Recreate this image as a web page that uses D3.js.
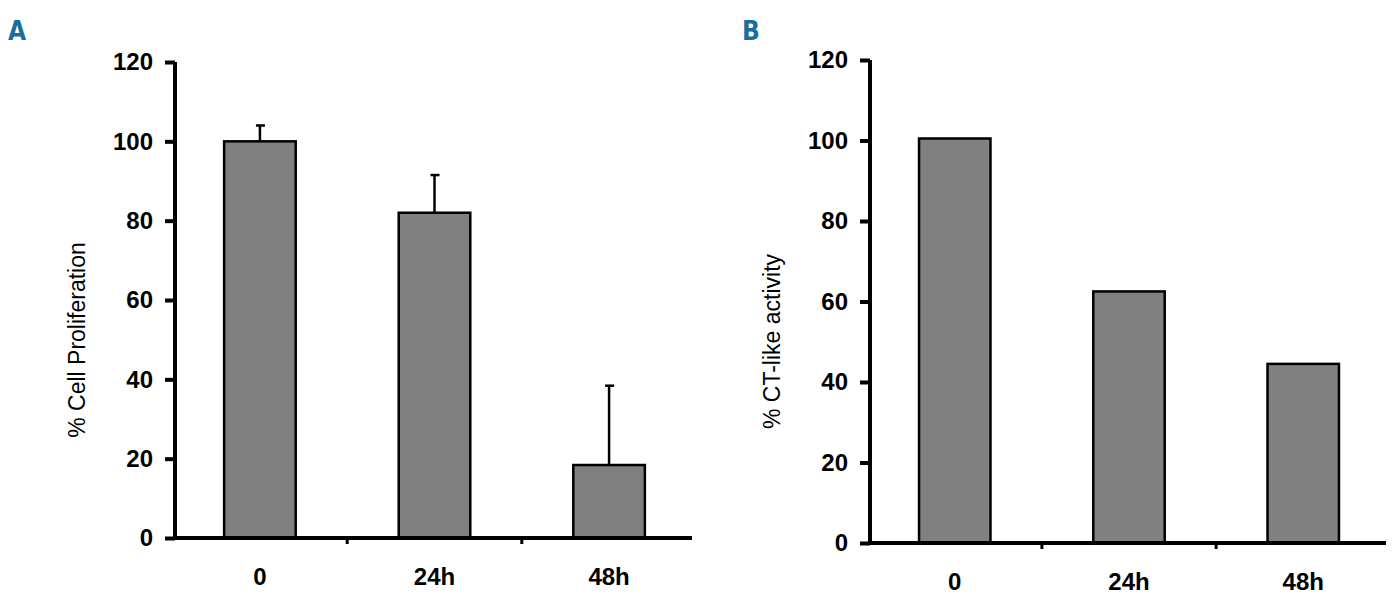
<!DOCTYPE html>
<html><head><meta charset="utf-8">
<script src="https://cdn.jsdelivr.net/npm/d3@7"></script>
<style>body{margin:0;background:#fff}</style></head>
<body><svg id="c" width="1400" height="596"></svg>
<script>
const categories = ['0', '24h', '48h']
const prolifValues = [100, 82, 18.4]
const prolifErrors = [4, 9.5, 20]
const ctValues = [100.5, 62.5, 44.5]
const yTicks = [0, 20, 40, 60, 80, 100, 120]

const svg = d3.select('#c')

function panel ({ letter, letterX, axisX, axisRight, y0, y120, values, errors, label }) {
  const y = d3.scaleLinear([0, 120], [y0, y120])
  const x = d3.scaleBand(categories, [axisX + 2, axisRight]).paddingInner(0.59).paddingOuter(0.27)
  const g = svg.append('g')

  svg.append('text').attr('x', letterX).attr('y', 40)
    .attr('fill', '#1a6e9c').attr('font-family', 'Liberation Sans Narrow, DejaVu Sans Condensed, sans-serif')
    .attr('font-weight', 'bold').attr('font-size', 26).text(letter)

  g.selectAll('rect.bar').data(values).join('rect').classed('bar', true)
    .attr('x', (d, i) => x(categories[i])).attr('width', x.bandwidth())
    .attr('y', d => y(d)).attr('height', d => y0 - y(d))
    .attr('fill', '#808080').attr('stroke', '#000').attr('stroke-width', 2.5)

  if (errors) {
    values.forEach((v, i) => {
      const cx = x(categories[i]) + x.bandwidth() / 2
      g.append('line').attr('x1', cx).attr('x2', cx).attr('y1', y(v)).attr('y2', y(v + errors[i]))
        .attr('stroke', '#000').attr('stroke-width', 2.5)
      g.append('line').attr('x1', cx - 4).attr('x2', cx + 5).attr('y1', y(v + errors[i])).attr('y2', y(v + errors[i]))
        .attr('stroke', '#000').attr('stroke-width', 2.5)
    })
  }

  const ya = g.append('g').attr('transform', `translate(${axisX},0)`)
    .call(d3.axisLeft(y).tickValues(yTicks).tickSize(10).tickPadding(12))
  ya.select('.domain').attr('stroke-width', 4).attr('d', `M0,${y120}V${y0}`)
  ya.selectAll('.tick line').attr('stroke-width', 4)
  ya.selectAll('.tick text').attr('font-family', 'Liberation Sans, Arial, sans-serif')
    .attr('font-weight', 'bold').attr('font-size', 24).attr('fill', '#000')

  g.append('line').attr('x1', axisX - 2).attr('x2', axisRight).attr('y1', y0).attr('y2', y0)
    .attr('stroke', '#000').attr('stroke-width', 4)
  const bounds = [x(categories[1]) - x.step() * x.paddingInner() / 2, x(categories[2]) - x.step() * x.paddingInner() / 2]
  bounds.forEach(b => g.append('line').attr('x1', b).attr('x2', b).attr('y1', y0).attr('y2', y0 + 6)
    .attr('stroke', '#000').attr('stroke-width', 3))

  g.selectAll('text.xl').data(categories).join('text').classed('xl', true)
    .attr('x', d => x(d) + x.bandwidth() / 2).attr('y', y0 + 47).attr('text-anchor', 'middle')
    .attr('font-family', 'Liberation Sans, Arial, sans-serif').attr('font-weight', 'bold').attr('font-size', 24)
    .text(d => d)

  g.append('text').attr('transform', `translate(${axisX - 90},${(y0 + y120) / 2 + 40}) rotate(-90)`)
    .attr('text-anchor', 'middle').attr('font-family', 'Liberation Sans, Arial, sans-serif')
    .attr('font-size', 23).text(label)
}

panel({ letter: 'A', letterX: 8, axisX: 175, axisRight: 692, y0: 538, y120: 62, values: prolifValues, errors: prolifErrors, label: '% Cell Proliferation' })
panel({ letter: 'B', letterX: 742, axisX: 870, axisRight: 1386, y0: 543, y120: 60, values: ctValues, errors: null, label: '% CT-like activity' })
</script></body></html>
